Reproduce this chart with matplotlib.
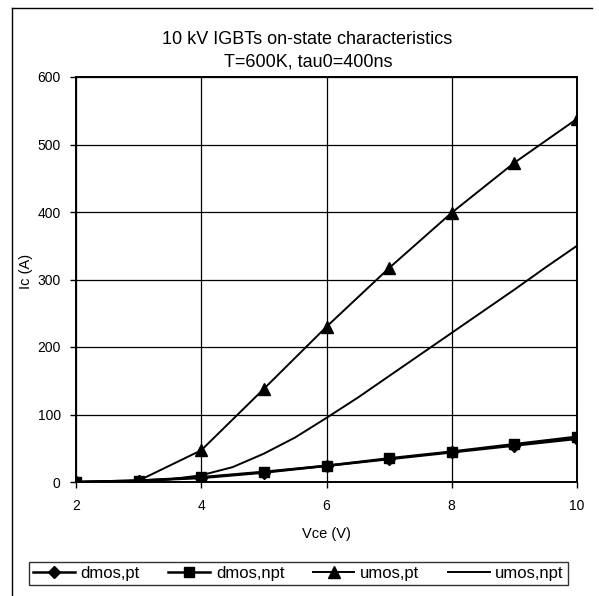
import matplotlib
matplotlib.use('Agg')
from matplotlib import pyplot as plt
from matplotlib.lines import Line2D

plt.rcParams['font.family'] = ['Liberation Sans', 'DejaVu Sans']

# values
vce = [2, 3, 4, 5, 6, 7, 8, 9, 10]
dmos_pt = [0, 2, 6, 14, 24, 34, 44, 54, 64]
dmos_npt = [0, 2, 7, 15, 24, 35, 45, 56, 67]
umos_pt = [0, 2, 47, 138, 230, 317, 399, 473, 538]

vce_fine = [2, 2.5, 3, 3.5, 4, 4.5, 5, 5.5, 6, 6.5, 7, 7.5, 8, 8.5, 9, 9.5, 10]
umos_npt = [0, -2, 1, 4, 10, 22, 42, 66, 95, 125, 157, 189, 221, 253, 285, 318, 350]

x_ticks = [2, 4, 6, 8, 10]
y_ticks = [0, 100, 200, 300, 400, 500, 600]

W, H = 599, 596
fig = plt.figure(figsize=(W / 100, H / 100), dpi=100)


def fx(px):
    return px / W


def fy(py):
    return 1 - py / H


ax = fig.add_axes([fx(76), fy(482), fx(577) - fx(76), fy(77) - fy(482)])

ax.plot(vce, dmos_pt, color='black', lw=1.8, marker='D', ms=6, label='dmos,pt')
ax.plot(vce, dmos_npt, color='black', lw=1.8, marker='s', ms=7.5, label='dmos,npt')
ax.plot(vce, umos_pt, color='black', lw=1.4, marker='^', ms=8.5, label='umos,pt')
ax.plot(vce_fine, umos_npt, color='black', lw=1.4, label='umos,npt')

ax.set_xlim(2, 10)
ax.set_ylim(0, 600)
ax.set_xticks(x_ticks)
ax.set_yticks(y_ticks)
ax.grid(True, color='black', lw=0.9)
ax.set_axisbelow(True)
for s in ax.spines.values():
    s.set_color('black')
    s.set_linewidth(1.4)
ax.tick_params(direction='out', length=4, width=1, labelsize=10)
ax.tick_params(axis='y', pad=7)
ax.tick_params(axis='x', pad=8)
ax.set_xlabel('Vce (V)', fontsize=10.5)
ax.xaxis.set_label_coords(0.5, -0.112)
ax.set_ylabel('Ic (A)', fontsize=10.5, va='center')
ax.yaxis.set_label_coords((26 - 76) / 501, 0.52)

fig.text(fx(307), fy(40), '10 kV IGBTs on-state characteristics',
         ha='center', va='center', fontsize=13)
fig.text(fx(308), fy(62), 'T=600K, tau0=400ns',
         ha='center', va='center', fontsize=13)

# outer chart frame
fig.add_artist(Line2D([fx(12), fx(12)], [fy(8), 0], color='black', lw=1))
fig.add_artist(Line2D([fx(12), fx(592)], [fy(8), fy(8)], color='black', lw=1))

leg = fig.legend(loc='lower left', mode='expand', ncol=4,
                 bbox_to_anchor=(fx(29), fy(585), fx(568) - fx(29), fy(564) - fy(585)),
                 fontsize=12, frameon=True, fancybox=False, edgecolor='black',
                 handlelength=2.5, handletextpad=0.35, columnspacing=1.0,
                 borderpad=0.25, borderaxespad=0)
leg.get_frame().set_linewidth(1)

fig.savefig('out.png', dpi=100)
